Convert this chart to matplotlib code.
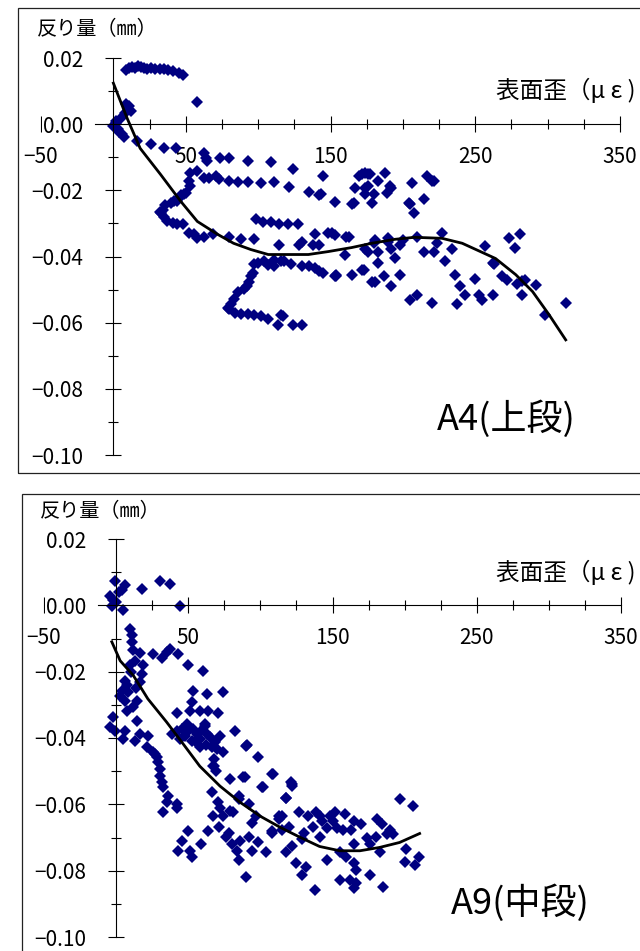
import matplotlib
matplotlib.use('Agg')
import matplotlib.pyplot as plt
from matplotlib.patches import Rectangle
from matplotlib.ticker import MultipleLocator, FixedLocator, FixedFormatter

plt.rcParams['font.family'] = ['Noto Sans CJK JP', 'DejaVu Sans']

# A4 (上段) : 表面歪 vs 反り量
a4_x = [9, 11, 13, 15, 17, 19, 21, 23, 26, 29, 32, 35, 38, 41, 45, 48, 58,
        10.6, 8, 5, 1.5, 0, 3.5, 6, 7, 2, 4, 12, 9,
        16.5, 25.7, 35, 43,
        62.5, 64, 65, 74, 80, 93, 109, 124, 145,
        53, 58, 62.5, 66, 71, 73, 80, 86, 93, 102, 111, 121.5, 135, 142, 153, 52, 53,
        50.5, 47, 44, 42, 39.6, 36, 34, 33, 35, 37, 41, 44, 48, 49, 46, 32,
        52, 56, 58, 62.5, 68.5, 80, 88, 97, 114.5, 128.5, 130, 139, 138, 142, 148.6, 153, 161, 162.5,
        98.6, 103.5, 109, 114.6, 120.8, 127.8,
        97, 100, 104, 111, 116, 118, 123, 130, 135, 139, 142, 145, 154, 164.6, 173, 96.5, 94, 90,
        86, 83, 81, 80, 79, 84, 88, 93, 97, 102, 107, 114, 116, 117, 124, 130, 111, 107, 92, 95,
        169.6, 171.5, 174, 176, 177, 167, 176, 174, 164.6, 166, 174, 178.5, 180, 183, 187.5, 189,
        191, 192, 206, 204, 207.6, 205, 214.6, 216.7, 220, 221.5, 143.75,
        176, 178.5, 174, 180, 183, 190, 192, 194.6, 198, 210, 214.6, 221.5, 223.6, 227, 234, 229,
        257, 263, 273.6, 281, 277.8, 268.8, 272, 284.7, 279, 291.7, 282.6, 298, 312.5, 171.5,
        180.5, 187, 192, 198, 205, 210, 220, 236, 239.6, 243, 237.5, 250, 252.8, 255, 262, 153,
        160, 183, 262, 150.7, 180.5, 190, 200, 282.6, 154]
a4_y = [0.0165, 0.017, 0.0172, 0.017, 0.0175, 0.0172, 0.017, 0.0168, 0.017, 0.0168, 0.0168,
        0.0167, 0.0165, 0.016, 0.0155, 0.0148, 0.0067,
        0.0055, 0.0033, 0.002, 0.0003, -0.0006, -0.0015, -0.003, -0.004, 0.001, -0.0025, 0.004, 0.006,
        -0.0052, -0.006, -0.0073, -0.0073,
        -0.0088, -0.0103, -0.011, -0.0103, -0.0103, -0.011, -0.0115, -0.0137, -0.0158,
        -0.0148, -0.0142, -0.0164, -0.0162, -0.0158, -0.0167, -0.0173, -0.0176, -0.0176, -0.0179,
        -0.0176, -0.019, -0.0206, -0.0215, -0.0236, -0.0173, -0.0188,
        -0.0209, -0.0214, -0.0233, -0.0233, -0.0239, -0.0243, -0.0258, -0.027, -0.028, -0.0294,
        -0.030, -0.0303, -0.0303, -0.0212, -0.022, -0.0265,
        -0.033, -0.0333, -0.0345, -0.0342, -0.0333, -0.034, -0.0348, -0.0348, -0.0364, -0.0364,
        -0.0355, -0.0333, -0.0364, -0.0364, -0.033, -0.0336, -0.034, -0.034,
        -0.0288, -0.0297, -0.0297, -0.0303, -0.0303, -0.0303,
        -0.0424, -0.042, -0.0415, -0.041, -0.0415, -0.0415, -0.0424, -0.043, -0.043, -0.0436,
        -0.0445, -0.045, -0.0458, -0.0455, -0.0442, -0.045, -0.0476, -0.0497,
        -0.0506, -0.0527, -0.0545, -0.056, -0.0557, -0.057, -0.0573, -0.0573, -0.0576, -0.058,
        -0.059, -0.0606, -0.0576, -0.058, -0.0606, -0.0606, -0.043, -0.0425, -0.049, -0.046,
        -0.0158, -0.0152, -0.0148, -0.0152, -0.0152, -0.0194, -0.0188, -0.0194, -0.0242, -0.0239,
        -0.0212, -0.0239, -0.0212, -0.0173, -0.0148, -0.0209,
        -0.0188, -0.0194, -0.0179, -0.0239, -0.027, -0.0242, -0.0227, -0.0158, -0.0173, -0.0173, -0.0212,
        -0.0385, -0.0476, -0.0376, -0.036, -0.0385, -0.0355, -0.0376, -0.0406, -0.0364, -0.034,
        -0.0385, -0.0385, -0.036, -0.033, -0.0376, -0.0415,
        -0.0367, -0.0424, -0.0345, -0.0333, -0.0373, -0.046, -0.047, -0.047, -0.0482, -0.0485,
        -0.0515, -0.0576, -0.054, -0.044,
        -0.0476, -0.046, -0.049, -0.0455, -0.053, -0.0515, -0.054, -0.0455, -0.049, -0.0515,
        -0.0545, -0.0467, -0.0515, -0.053, -0.0515, -0.046,
        -0.0394, -0.042, -0.042, -0.033, -0.035, -0.0345, -0.035, -0.0473, -0.0455]
a4_fit_x = [0, 9.5, 18.5, 32.6, 46.5, 58, 72, 83, 95, 107, 121, 134.7, 148.6, 164.6,
            178.5, 194.6, 208, 227, 241, 264, 278, 289.6, 301, 312.5]
a4_fit_y = [0.0124, 0.0018, -0.0073, -0.0152, -0.0233, -0.0294, -0.0333, -0.036, -0.0379,
            -0.0394, -0.0394, -0.0394, -0.0385, -0.0373, -0.036, -0.0348, -0.0342, -0.0345,
            -0.036, -0.0406, -0.0455, -0.0506, -0.0576, -0.0652]

# A9 (中段)
a9_x = [-0.7, 6, 4, -4, -2, -3, 5, 18, 30.5, 37.5, 44.4, 2, 0,
        9.7, 11, 11, 12, 16.7, 13, 9.7, 18.8, 18, 16.7, 6, 7.6, 4, 2.8, 8.3, 6, 14.6, 12, 7.6,
        14.6, -2, -4, -0.7, 6, 5, 13, 16.7, 22, 10, 14,
        25.7, 31.9, 35.4, 37.5, 43, 50, 60.4, 53.5, 63, 74.3, 42, 52.8, 51.4, 58, 64, 70.8,
        61.8, 82.6, 91, 98.6, 109, 122, 118, 102, 88,
        42, 45.8, 48, 44.4, 50, 53.5, 56, 52.8, 58, 59, 61.8, 63, 65, 68.75, 66.7, 58, 70, 72,
        74.3, 68, 68, 69.4, 49, 38.9, 55, 62,
        21.5, 25.7, 28.5, 29, 30.5, 30.5, 31.9, 32.6, 36, 35.4, 42, 32.6, 27, 42,
        50, 63.9, 45.8, 43, 51.4, 52.8, 59, 66.7, 70.8, 67.4, 71.5, 76.4, 80.5, 84, 85, 90, 94,
        92, 79, 89, 85.4, 81, 90, 108, 101.4, 118, 122, 97, 98.6, 104, 108.3, 113, 120, 122,
        125, 129, 118, 127, 133, 136.8, 131.9, 138, 129, 115, 67.4, 72, 85.4, 92.4, 74, 79,
        94.4, 108, 121.5, 86, 78,
        141, 148.6, 152, 159, 164.6, 146, 153, 162.5, 141, 164.6, 155, 159.7, 146, 164.6, 166,
        155, 162, 166, 164.6, 175.7, 185, 173.6, 180.5, 182.6, 181, 184, 190, 188, 192, 196.5,
        205.5, 201, 200, 207, 209.7, 138.9, 130.5, 113, 115, 143, 150, 157, 170, 176]
a9_y = [0.0073, 0.006, 0.0045, 0.0027, 0.0015, -0.0003, -0.0015, 0.0048, 0.0073, 0.0064,
        -0.0003, 0.004, 0.001,
        -0.007, -0.009, -0.011, -0.0136, -0.0145, -0.0167, -0.018, -0.018, -0.0206, -0.023,
        -0.0227, -0.024, -0.0258, -0.0273, -0.026, -0.0288, -0.0288, -0.0306, -0.032,
        -0.0348, -0.0336, -0.0367, -0.038, -0.0379, -0.0403, -0.041, -0.0388, -0.0394, -0.02, -0.025,
        -0.0148, -0.0158, -0.014, -0.0133, -0.0148, -0.018, -0.0197, -0.0258, -0.0267, -0.026,
        -0.0324, -0.029, -0.032, -0.032, -0.032, -0.0324,
        -0.0358, -0.038, -0.042, -0.0458, -0.051, -0.054, -0.058, -0.0548, -0.0518,
        -0.038, -0.0373, -0.0394, -0.0403, -0.038, -0.0373, -0.0388, -0.041, -0.0403, -0.038,
        -0.0364, -0.0388, -0.0397, -0.0412, -0.0427, -0.0427, -0.0433, -0.0394,
        -0.0442, -0.0464, -0.0485, -0.05, -0.0358, -0.0388, -0.041, -0.042,
        -0.0427, -0.0442, -0.0458, -0.0473, -0.0494, -0.0515, -0.0533, -0.0548, -0.0576,
        -0.0594, -0.06, -0.0624, -0.0448, -0.061,
        -0.068, -0.068, -0.0712, -0.0742, -0.0742, -0.0758, -0.0721, -0.0564, -0.0594, -0.0636,
        -0.0667, -0.0697, -0.0721, -0.0742, -0.0767, -0.0818, -0.0742,
        -0.0697, -0.0524, -0.0518, -0.0585, -0.0624, -0.0424, -0.051, -0.0548, -0.058, -0.0545,
        -0.0636, -0.0715, -0.0745, -0.0685, -0.0645, -0.0667, -0.0727,
        -0.0776, -0.0812, -0.0745, -0.0624, -0.0636, -0.0667, -0.0788, -0.0858, -0.0706,
        -0.0636, -0.0485, -0.061, -0.0576, -0.06, -0.0636, -0.062,
        -0.0655, -0.068, -0.0533, -0.071, -0.0685,
        -0.0636, -0.0636, -0.0624, -0.063, -0.065, -0.067, -0.067, -0.0676, -0.0697, -0.0721,
        -0.0745, -0.0758, -0.0767, -0.0776, -0.0797,
        -0.0827, -0.0827, -0.0836, -0.0852, -0.0812, -0.0848, -0.07, -0.0697, -0.0745, -0.0645,
        -0.066, -0.0676, -0.069, -0.069, -0.0585,
        -0.0606, -0.0736, -0.0773, -0.0782, -0.0758, -0.0624, -0.0685, -0.0636, -0.0676, -0.065,
        -0.065, -0.0676, -0.066, -0.072]
a9_fit_x = [-3, 2.8, 12, 22, 35, 46.5, 58, 72, 86, 100, 114, 127.8, 141, 155, 169, 182.6,
            196.5, 210.4]
a9_fit_y = [-0.011, -0.0167, -0.0212, -0.0282, -0.0352, -0.0418, -0.0485, -0.0545, -0.0594,
            -0.0636, -0.067, -0.070, -0.0727, -0.074, -0.074, -0.073, -0.0715, -0.0688]

xticks = [-50, 50, 150, 250, 350]
xticklabels = ['\u221250', '50', '150', '250', '350']
yticks = [0.02, 0.00, -0.02, -0.04, -0.06, -0.08, -0.10]
yticklabels = ['0.02', '0.00', '\u22120.02', '\u22120.04', '\u22120.06', '\u22120.08', '\u22120.10']

W, H = 640, 951


def fx(px):
    return px / W


def fy(py):
    return 1 - py / H


def panel(fig, rect, border, x, y, fit_x, fit_y, name, ylab_pos, xlab_pos, name_pos):
    fig.patches.append(Rectangle(border[0], border[1], border[2], transform=fig.transFigure,
                                 fill=False, edgecolor='#222222', linewidth=0.9))
    ax = fig.add_axes(rect)
    ax.patch.set_alpha(0)
    ax.plot(x, y, linestyle='none', marker='D', markersize=5.8, markeredgewidth=0,
            color='#000080', zorder=2)
    ax.plot(fit_x, fit_y, color='black', linewidth=2.0, zorder=2.2)
    ax.set_xlim(-50, 350)
    ax.set_ylim(-0.10, 0.02)
    for s in ['top', 'right']:
        ax.spines[s].set_visible(False)
    ax.spines['left'].set_position(('data', 0))
    ax.spines['bottom'].set_position(('data', 0))
    ax.spines['bottom'].set_bounds(-12.5, 350)
    for s in ['left', 'bottom']:
        ax.spines[s].set_linewidth(0.8)
    ax.xaxis.set_major_locator(FixedLocator(xticks))
    ax.xaxis.set_major_formatter(FixedFormatter(xticklabels))
    ax.xaxis.set_minor_locator(MultipleLocator(25))
    ax.yaxis.set_major_locator(FixedLocator(yticks))
    ax.yaxis.set_major_formatter(FixedFormatter(yticklabels))
    ax.yaxis.set_minor_locator(MultipleLocator(0.01))
    ax.tick_params(which='major', direction='inout', length=11, width=0.8, labelsize=15)
    ax.tick_params(which='minor', direction='inout', length=7, width=0.8)
    ax.tick_params(axis='x', which='major', pad=10)
    ax.tick_params(axis='y', which='major', pad=16)
    for lab in ax.get_xticklabels() + ax.get_yticklabels():
        lab.set_bbox(dict(facecolor='white', edgecolor='none', pad=1))
    fig.text(fx(ylab_pos[0]), fy(ylab_pos[1]), '反り量（㎜）', fontsize=14.5, ha='left', va='center')
    fig.text(fx(xlab_pos[0]), fy(xlab_pos[1]), '表面歪（μ ε )', fontsize=17, ha='right', va='center')
    fig.text(fx(name_pos[0]), fy(name_pos[1]), name, fontsize=26, ha='center', va='center')
    return ax


fig = plt.figure(figsize=(W / 100, H / 100), dpi=100)

panel(fig, [fx(41), fy(455), 579 / W, 397 / H],
      [(fx(18), fy(473)), 1.0, 465 / H],
      a4_x, a4_y, a4_fit_x, a4_fit_y, 'A4(上段)',
      (37, 30), (636, 90), (506, 419))

panel(fig, [fx(44), fy(937), 577 / W, 398 / H],
      [(fx(22), fy(960)), 1.0, 466 / H],
      a9_x, a9_y, a9_fit_x, a9_fit_y, 'A9(中段)',
      (40, 512), (636, 572), (520, 903))

fig.savefig('out.png', dpi=100)
